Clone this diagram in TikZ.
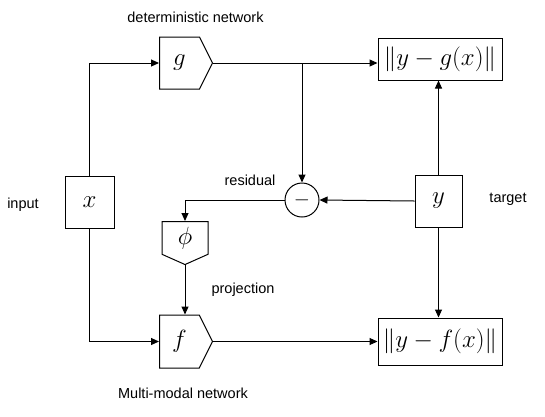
\documentclass[tikz,border=0pt]{standalone}
\usepackage{fontspec}
\setsansfont{Liberation Sans}
\usetikzlibrary{arrows.meta,shapes.symbols,calc}
\begin{document}
\begin{tikzpicture}[x=1pt,y=-1pt,
  line width=1pt,
  arr/.style={-{Triangle[length=8pt,width=7pt]}},
  box/.style={draw,rectangle,inner sep=0pt,font=\fontsize{24}{28}\selectfont},
  sig/.style={draw,signal,inner sep=0pt,font=\fontsize{24}{28}\selectfont},
  lbl/.style={font=\sffamily\fontsize{14.5}{17}\selectfont,inner sep=0pt}]
\useasboundingbox (0,0) rectangle (545,416);
\node[box,minimum width=49pt,minimum height=52pt] (x) at (89.5,202) {$x$};
\node[box,minimum width=47pt,minimum height=52pt] (y) at (438.5,201) {$y$};
\node[sig,signal to=east,signal pointer angle=127,minimum width=53pt,minimum height=52pt,anchor=west] (g) at (159,63) {$g$};
\node[sig,signal to=east,signal pointer angle=127,minimum width=53pt,minimum height=53pt,anchor=west] (f) at (159,341.5) {$f$};
\node[sig,signal to=south,signal pointer angle=132,minimum width=46pt,minimum height=36pt,anchor=north] (p) at (185,221) {$\phi$};
\node[draw,circle,minimum size=34pt,inner sep=0pt,font=\fontsize{22}{26}\selectfont] (c) at (302,200) {$-$};
\node[box,minimum width=124pt,minimum height=42pt] (tg) at (440,59) {$\|y-g(x)\|$};
\node[box,minimum width=124pt,minimum height=47pt] (tf) at (440,341.5) {$\|y-f(x)\|$};
\coordinate (br) at (c.north |- g.east);
\draw[arr] (x.north) |- (g.west);
\draw[arr] (x.south) |- (f.west);
\draw[arr] (g.east) -- (g.east -| tg.west);
\draw[arr] (br) -- (c.north);
\draw[arr] (y.west) -- (c.east);
\draw[arr] (c.west) -| (p.north);
\draw[arr] (p.south) -- (p.south |- f.north);
\draw[arr] (f.east) -- (f.east -| tf.west);
\draw[arr] (y.north) -- (y.north |- tg.south);
\draw[arr] (y.south) -- (y.south |- tf.north);
\node[lbl] (l1) at (195.5,17) {deterministic network};
\node[lbl] (l2) at (23,205) {input};
\node[lbl] (l3) at (250,180) {residual};
\node[lbl] (l4) at (508,199) {target};
\node[lbl] (l5) at (243,290) {projection};
\node[lbl] (l6) at (183,393) {Multi-modal network};
\end{tikzpicture}
\end{document}
